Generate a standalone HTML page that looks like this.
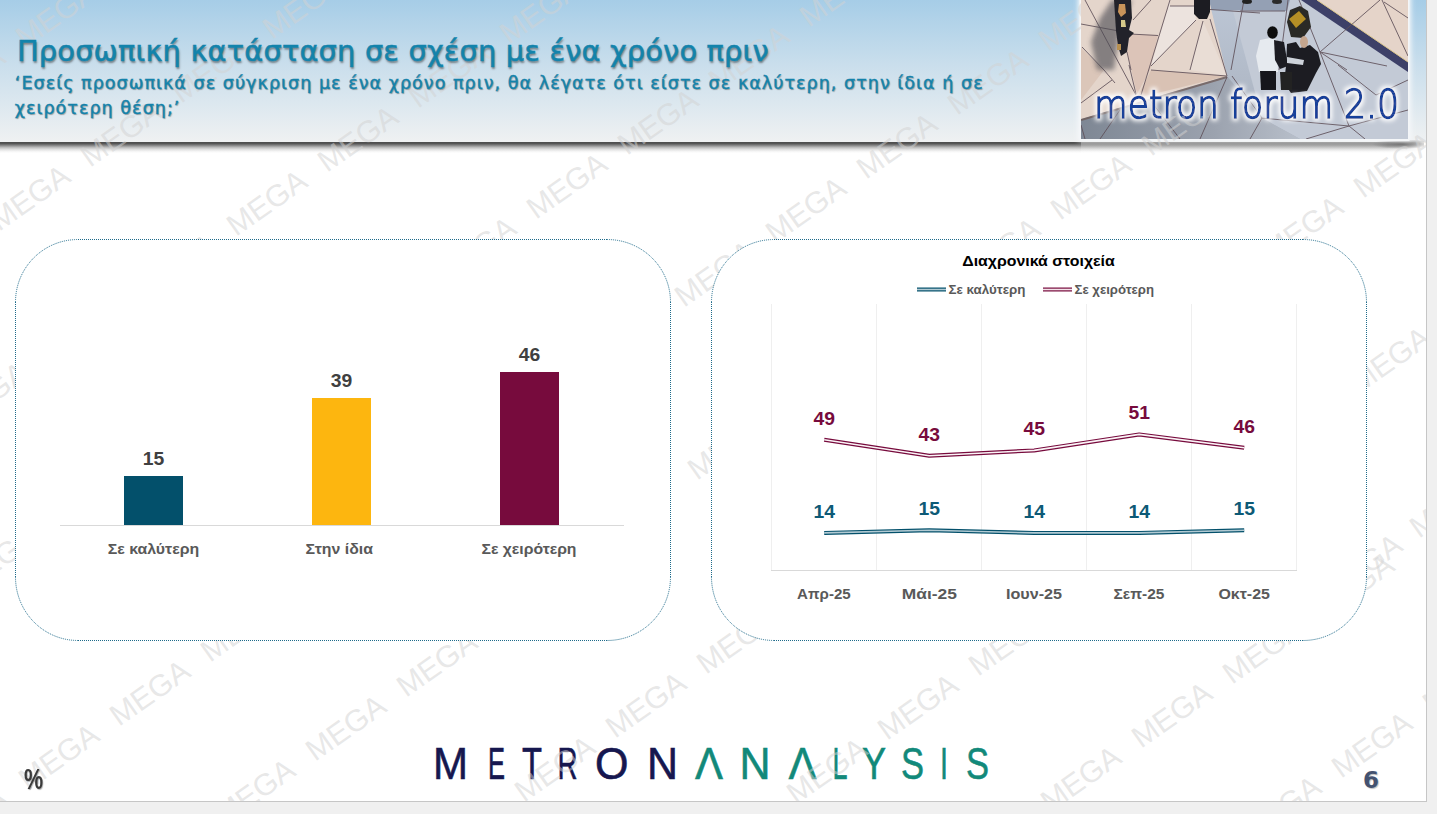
<!DOCTYPE html>
<html lang="el"><head><meta charset="utf-8"><title>Προσωπική κατάσταση</title>
<style>
html,body{margin:0;padding:0;}
body{width:1437px;height:814px;background:#f0f0f0;position:relative;overflow:hidden;font-family:"Liberation Sans","DejaVu Sans",sans-serif;}
#slide{position:absolute;left:0;top:0;width:1426px;height:801px;background:#fff;border-right:1px solid #c6c6c6;border-bottom:1px solid #c6c6c6;overflow:hidden;}
#hdr{position:absolute;left:0;top:0;width:1426px;height:142px;background:linear-gradient(180deg,#a6cde7 0%,#c9deec 45%,#eff1f2 100%);}
#shadow{position:absolute;left:0;top:142px;width:1081px;height:11px;background:linear-gradient(180deg,#4c4c4c 0%,#555 14%,#838383 30%,#b9b9b9 48%,#dedede 66%,#f4f4f4 84%,rgba(255,255,255,0) 100%);}
#shadow2{position:absolute;left:1081px;top:142px;width:341px;height:11px;background:linear-gradient(180deg,#7e7e7e 0%,#8a8a8a 14%,#a2a2a2 30%,#c4c4c4 48%,#e2e2e2 66%,#f6f6f6 84%,rgba(255,255,255,0) 100%);-webkit-mask-image:linear-gradient(90deg,#000 0%,#000 90%,rgba(0,0,0,0) 100%);mask-image:linear-gradient(90deg,#000 0%,#000 90%,rgba(0,0,0,0) 100%);}
#shadow3{position:absolute;left:1370px;top:140px;width:54px;height:12px;background:radial-gradient(ellipse 30px 5px at 32px 4px,rgba(70,70,70,.75) 0%,rgba(90,90,90,.4) 55%,rgba(255,255,255,0) 100%);}
.t1{position:absolute;left:17px;top:34px;font-family:"DejaVu Sans",sans-serif;font-size:28.8px;letter-spacing:.2px;color:#1383ab;white-space:nowrap;-webkit-text-stroke:.5px #1383ab;text-shadow:1px 1.5px 2px rgba(30,30,30,.5);}
.t2{position:absolute;left:14.8px;top:71px;font-family:"DejaVu Sans",sans-serif;font-size:17.5px;line-height:24.5px;letter-spacing:1.05px;color:#1482aa;white-space:nowrap;-webkit-text-stroke:.4px #1482aa;text-shadow:1px 1px 1px rgba(40,40,40,.4);}
.pct{position:absolute;left:23.5px;top:763px;transform:scaleX(.74);transform-origin:0 0;font-family:"Liberation Sans",sans-serif;font-weight:bold;font-size:29px;color:#3a3a3a;text-shadow:1px 1px 1px rgba(0,0,0,.3);}
.pg{position:absolute;left:1363px;top:767px;font-family:"DejaVu Sans",sans-serif;font-weight:bold;font-size:23px;color:#435270;text-shadow:1px 1px 1px rgba(0,0,0,.25);}
</style></head>
<body>
<div id="slide">
  <div id="hdr"></div>
  <div id="shadow"></div>
  <div id="shadow2"></div>
  <div id="shadow3"></div>
</div>
<svg id="mlogo" width="1437" height="814" viewBox="0 0 1437 814" style="position:absolute;left:0;top:0">
  <g font-family="Liberation Sans, sans-serif" font-size="45">
    <g fill="#16174f" stroke="#16174f" stroke-width="0.6">
      <text x="433" y="778.6" textLength="35" lengthAdjust="spacingAndGlyphs">M</text>
      <text x="488" y="778.6" textLength="17" lengthAdjust="spacingAndGlyphs">E</text>
      <text x="522" y="778.6" textLength="20" lengthAdjust="spacingAndGlyphs">T</text>
      <text x="557.5" y="778.6" textLength="20" lengthAdjust="spacingAndGlyphs">R</text>
      <text x="595" y="778.6" textLength="33.5" lengthAdjust="spacingAndGlyphs">O</text>
      <text x="647" y="778.6" textLength="31" lengthAdjust="spacingAndGlyphs">N</text>
    </g>
    <g fill="#12897a" stroke="#12897a" stroke-width="0.6">
      <text x="695" y="778.6" textLength="28" lengthAdjust="spacingAndGlyphs">Λ</text>
      <text x="739.5" y="778.6" textLength="31" lengthAdjust="spacingAndGlyphs">N</text>
      <text x="788.5" y="778.6" textLength="28" lengthAdjust="spacingAndGlyphs">Λ</text>
      <text x="832.5" y="778.6" textLength="15" lengthAdjust="spacingAndGlyphs">L</text>
      <text x="862" y="778.6" textLength="24" lengthAdjust="spacingAndGlyphs">Y</text>
      <text x="901" y="778.6" textLength="23" lengthAdjust="spacingAndGlyphs">S</text>
      <text x="940" y="778.6" textLength="8" lengthAdjust="spacingAndGlyphs">I</text>
      <text x="966" y="778.6" textLength="23" lengthAdjust="spacingAndGlyphs">S</text>
    </g>
  </g>
</svg>
<svg id="photo" width="1437" height="814" viewBox="0 0 1437 814" style="position:absolute;left:0;top:0">
  <defs>
    <clipPath id="pc"><rect x="1081" y="0" width="327" height="139"/></clipPath>
    <linearGradient id="gbl" x1="0" y1="0" x2="0" y2="1">
      <stop offset="0" stop-color="#bcc6d5"/><stop offset="1" stop-color="#a9b1be"/>
    </linearGradient>
    <linearGradient id="gdk" x1="0" y1="0" x2="1" y2="0">
      <stop offset="0" stop-color="#7e8794"/><stop offset="0.6" stop-color="#9ba2ae"/><stop offset="1" stop-color="#b8bfca"/>
    </linearGradient>
    <filter id="blur2" x="-20%" y="-20%" width="140%" height="140%"><feGaussianBlur stdDeviation="2.5"/></filter>
    <filter id="blur1"><feGaussianBlur stdDeviation="0.6"/></filter>
    <filter id="glow" x="-10%" y="-30%" width="120%" height="160%">
      <feMorphology in="SourceAlpha" operator="dilate" radius="2" result="d"/>
      <feGaussianBlur in="d" stdDeviation="2.2" result="b"/>
      <feFlood flood-color="#ffffff" flood-opacity="0.95"/>
      <feComposite in2="b" operator="in" result="g"/>
      <feMerge><feMergeNode in="g"/><feMergeNode in="SourceGraphic"/></feMerge>
    </filter>
  </defs>
  <rect x="1078" y="-5" width="333" height="146" fill="#f6f8fa" filter="url(#blur2)"/>
  <rect x="1079.5" y="0" width="330" height="141" fill="#f4f6f8"/>
  <g clip-path="url(#pc)">
    <!-- base gray-blue -->
    <rect x="1081" y="0" width="327" height="139" fill="url(#gbl)"/>
    <!-- lighter right area -->
    <polygon points="1230,0 1302,0 1408,70 1408,139 1300,139 1262,118" fill="#c3cad6"/>
    <polygon points="1209,0 1290,0 1287,11 1211,10" fill="#94a0b4"/>
    <!-- dark lower-left -->
    <polygon points="1081,119 1227,76 1262,118 1300,139 1081,139" fill="url(#gdk)"/>
    <!-- beige main region -->
    <polygon points="1081,0 1209,0 1227,76 1081,119" fill="#e4d5cb"/>
    <polygon points="1130,34 1158,35 1150,70 1137,94 1127,52" fill="#dcc4b8"/>
    <polygon points="1151,70 1227,76 1137,98" fill="#d9c2b4"/>
    <polygon points="1081,48 1104,70 1081,100" fill="#dbc6b9"/>
    <polygon points="1170,6 1194,6 1196,20 1151,66 1170,0" fill="#ece3de"/>
    <polygon points="1203,21 1227,76 1190,70" fill="#e9ddd5"/>
    <!-- shadow below beige edge -->
    <line x1="1081" y1="120" x2="1227" y2="77" stroke="#6b5550" stroke-width="2" opacity="0.7"/>
    <!-- navy band + beige triangle top right -->
    <polygon points="1301,0 1317,0 1408,62 1408,72" fill="#3d4068"/>
    <polygon points="1317,0 1408,0 1408,62" fill="#e5d4c9"/>
    <line x1="1317" y1="0" x2="1408" y2="62" stroke="#d8c38a" stroke-width="1"/>
    <!-- tile lines -->
    <g stroke="#5e4f58" stroke-width="1" fill="none" opacity="0.85">
      <line x1="1085" y1="0" x2="1136" y2="95"/>
      <line x1="1081" y1="24" x2="1119" y2="31"/>
      <line x1="1082" y1="47" x2="1104" y2="70"/>
      <line x1="1104" y1="70" x2="1115" y2="83"/>
      <line x1="1081" y1="103" x2="1112" y2="80"/>
      <line x1="1170" y1="0" x2="1141" y2="95"/>
      <line x1="1130" y1="34" x2="1158" y2="35.5"/>
      <line x1="1151" y1="0" x2="1133" y2="20"/>
      <line x1="1196" y1="20" x2="1151" y2="66"/>
      <line x1="1203" y1="21" x2="1190" y2="70"/>
      <line x1="1210" y1="19" x2="1227" y2="76"/>
      <line x1="1170" y1="6" x2="1194" y2="6"/>
      <line x1="1127" y1="52" x2="1131" y2="70"/>
      <line x1="1151" y1="70" x2="1227" y2="76"/>
      <line x1="1129" y1="65" x2="1136" y2="94"/>
      <line x1="1210" y1="9.5" x2="1260" y2="13"/>
      <line x1="1244" y1="0" x2="1231" y2="70"/>
      <line x1="1240" y1="11" x2="1285" y2="11"/>
      <line x1="1288" y1="0" x2="1279" y2="70"/>
      <line x1="1299" y1="0" x2="1320" y2="52"/>
      <line x1="1320" y1="52" x2="1380" y2="0"/>
      <line x1="1320" y1="52" x2="1387" y2="66"/>
      <line x1="1320" y1="52" x2="1347" y2="70"/>
      <line x1="1320" y1="52" x2="1349" y2="126"/>
      <line x1="1349" y1="126" x2="1365" y2="139"/>
      <line x1="1349" y1="126" x2="1306" y2="139"/>
      <line x1="1349" y1="126" x2="1408" y2="110"/>
      <line x1="1349" y1="126" x2="1261" y2="118"/>
      <line x1="1338" y1="65" x2="1376" y2="95"/>
      <line x1="1376" y1="95" x2="1408" y2="80"/>
      <line x1="1382" y1="0" x2="1408" y2="56"/>
      <line x1="1384" y1="2" x2="1408" y2="18"/>
      <line x1="1232" y1="76" x2="1262" y2="118"/>
      <line x1="1262" y1="118" x2="1250" y2="139"/>
      <line x1="1227" y1="77" x2="1200" y2="139"/>
      <line x1="1150" y1="100" x2="1180" y2="139"/>
      <line x1="1120" y1="110" x2="1100" y2="139"/>
      <line x1="1085" y1="139" x2="1081" y2="125"/>
    </g>
    <!-- shadow of person 1 -->
    <path d="M1112,0 L1132,0 L1120,30 L1114,70 L1097,70 L1091,42 L1100,18 Z" fill="#4c4c52" opacity="0.62" filter="url(#blur2)"/>
    <!-- person 1 -->
    <g filter="url(#blur1)">
      <path d="M1114,0 L1131,0 L1132,18 L1129,30 L1134,33 L1129,38 L1127,52 L1121,56 L1118,46 L1116,31 Z" fill="#23242a"/>
      <path d="M1119,4 L1125,4 L1126,13 L1121,17 L1118,12 Z" fill="#c9945a"/>
      <path d="M1121,20 L1125,20 L1126,27 L1121,27 Z" fill="#d6c98a"/>
      <path d="M1117,44 L1121,44 L1121,50 L1117,50 Z" fill="#b89050"/>
    </g>
    <!-- person 2 -->
    <path d="M1194,0 L1210,0 L1210,12 L1207,19 L1199,19 L1194,14 Z" fill="#1e1f22" filter="url(#blur1)"/>
    <ellipse cx="1247" cy="1.5" rx="5" ry="2.5" fill="#222"/>
    <ellipse cx="1277" cy="1.5" rx="5" ry="2.5" fill="#2a2a2a"/>
    <!-- group right -->
    <g filter="url(#blur1)">
      <path d="M1290,10 L1300,6 L1308,11 L1311,27 L1303,38 L1291,37 L1287,22 Z" fill="#2a2925"/>
      <path d="M1289,19 L1299,11 L1306,19 L1296,28 Z" fill="#b58f25"/>
      <path d="M1260,40 L1270,38 L1277,40 L1278,72 L1259,72 L1256,56 Z" fill="#e6eaef"/>
      <ellipse cx="1272.5" cy="32.5" rx="5.3" ry="6.2" fill="#111"/>
      <path d="M1260,71 L1276,71 L1276,90 L1261,90 Z" fill="#18181c"/>
      <path d="M1274,40 L1284,42 L1288,66 L1280,69 L1275,60 Z" fill="#1f1f24"/>
      <path d="M1287,44 L1296,42 L1300,48 L1310,45 L1318,52 L1321,64 L1316,73 L1307,91 L1291,93 L1284,83 L1286,66 Z" fill="#1c1c21"/>
      <ellipse cx="1304" cy="42" rx="4" ry="6" fill="#c4a58e"/>
      <path d="M1287,57 L1304,60 L1303,65 L1287,63 Z" fill="#cdd2da"/>
      <path d="M1280,72 L1292,72 L1292,90 L1281,90 Z" fill="#202024"/>
    </g>
  </g>
  <text x="1094" y="117.5" font-family="DejaVu Sans, sans-serif" font-weight="200" font-size="39.5" fill="#17409a" stroke="#17409a" stroke-width="1.5" textLength="305" lengthAdjust="spacingAndGlyphs" filter="url(#glow)">metron forum 2.0</text>
</svg>
<svg id="wm" width="1426" height="801" viewBox="0 0 1426 801" style="position:absolute;left:0;top:0">
<defs><clipPath id="wmclip"><path clip-rule="evenodd" d="M0,0H1426V801H0Z M1081,0H1409V116H1081Z"/></clipPath></defs>
<g clip-path="url(#wmclip)" font-family="Liberation Sans, sans-serif" font-size="30.5" fill="#d2d2d2" fill-opacity="0.52" text-anchor="middle">
<text x="-35.0" y="79.0" dy="10" transform="rotate(-35 -35.0 79.0)">MEGA</text>
<text x="56.0" y="15.0" dy="10" transform="rotate(-35 56.0 15.0)">MEGA</text>
<text x="30.0" y="198.0" dy="10" transform="rotate(-35 30.0 198.0)">MEGA</text>
<text x="121.0" y="134.0" dy="10" transform="rotate(-35 121.0 134.0)">MEGA</text>
<text x="212.0" y="70.0" dy="10" transform="rotate(-35 212.0 70.0)">MEGA</text>
<text x="303.0" y="6.0" dy="10" transform="rotate(-35 303.0 6.0)">MEGA</text>
<text x="176.0" y="267.0" dy="10" transform="rotate(-35 176.0 267.0)">MEGA</text>
<text x="267.0" y="203.0" dy="10" transform="rotate(-35 267.0 203.0)">MEGA</text>
<text x="358.0" y="139.0" dy="10" transform="rotate(-35 358.0 139.0)">MEGA</text>
<text x="449.0" y="75.0" dy="10" transform="rotate(-35 449.0 75.0)">MEGA</text>
<text x="540.0" y="11.0" dy="10" transform="rotate(-35 540.0 11.0)">MEGA</text>
<text x="476.0" y="250.0" dy="10" transform="rotate(-35 476.0 250.0)">MEGA</text>
<text x="567.0" y="186.0" dy="10" transform="rotate(-35 567.0 186.0)">MEGA</text>
<text x="658.0" y="122.0" dy="10" transform="rotate(-35 658.0 122.0)">MEGA</text>
<text x="749.0" y="58.0" dy="10" transform="rotate(-35 749.0 58.0)">MEGA</text>
<text x="840.0" y="-6.0" dy="10" transform="rotate(-35 840.0 -6.0)">MEGA</text>
<text x="715.0" y="274.0" dy="10" transform="rotate(-35 715.0 274.0)">MEGA</text>
<text x="806.0" y="210.0" dy="10" transform="rotate(-35 806.0 210.0)">MEGA</text>
<text x="897.0" y="146.0" dy="10" transform="rotate(-35 897.0 146.0)">MEGA</text>
<text x="988.0" y="82.0" dy="10" transform="rotate(-35 988.0 82.0)">MEGA</text>
<text x="1079.0" y="18.0" dy="10" transform="rotate(-35 1079.0 18.0)">MEGA</text>
<text x="1000.0" y="251.0" dy="10" transform="rotate(-35 1000.0 251.0)">MEGA</text>
<text x="1091.0" y="187.0" dy="10" transform="rotate(-35 1091.0 187.0)">MEGA</text>
<text x="1182.0" y="123.0" dy="10" transform="rotate(-35 1182.0 123.0)">MEGA</text>
<text x="1273.0" y="59.0" dy="10" transform="rotate(-35 1273.0 59.0)">MEGA</text>
<text x="1364.0" y="-5.0" dy="10" transform="rotate(-35 1364.0 -5.0)">MEGA</text>
<text x="1303.0" y="229.0" dy="10" transform="rotate(-35 1303.0 229.0)">MEGA</text>
<text x="1394.0" y="165.0" dy="10" transform="rotate(-35 1394.0 165.0)">MEGA</text>
<text x="-32.0" y="821.0" dy="10" transform="rotate(-35 -32.0 821.0)">MEGA</text>
<text x="59.0" y="757.0" dy="10" transform="rotate(-35 59.0 757.0)">MEGA</text>
<text x="150.0" y="693.0" dy="10" transform="rotate(-35 150.0 693.0)">MEGA</text>
<text x="241.0" y="629.0" dy="10" transform="rotate(-35 241.0 629.0)">MEGA</text>
<text x="255.0" y="792.0" dy="10" transform="rotate(-35 255.0 792.0)">MEGA</text>
<text x="346.0" y="728.0" dy="10" transform="rotate(-35 346.0 728.0)">MEGA</text>
<text x="437.0" y="664.0" dy="10" transform="rotate(-35 437.0 664.0)">MEGA</text>
<text x="464.0" y="833.0" dy="10" transform="rotate(-35 464.0 833.0)">MEGA</text>
<text x="555.0" y="769.0" dy="10" transform="rotate(-35 555.0 769.0)">MEGA</text>
<text x="646.0" y="705.0" dy="10" transform="rotate(-35 646.0 705.0)">MEGA</text>
<text x="737.0" y="641.0" dy="10" transform="rotate(-35 737.0 641.0)">MEGA</text>
<text x="736.0" y="835.0" dy="10" transform="rotate(-35 736.0 835.0)">MEGA</text>
<text x="827.0" y="771.0" dy="10" transform="rotate(-35 827.0 771.0)">MEGA</text>
<text x="918.0" y="707.0" dy="10" transform="rotate(-35 918.0 707.0)">MEGA</text>
<text x="1009.0" y="643.0" dy="10" transform="rotate(-35 1009.0 643.0)">MEGA</text>
<text x="1081.0" y="779.0" dy="10" transform="rotate(-35 1081.0 779.0)">MEGA</text>
<text x="1172.0" y="715.0" dy="10" transform="rotate(-35 1172.0 715.0)">MEGA</text>
<text x="1263.0" y="651.0" dy="10" transform="rotate(-35 1263.0 651.0)">MEGA</text>
<text x="1354.0" y="587.0" dy="10" transform="rotate(-35 1354.0 587.0)">MEGA</text>
<text x="1281.0" y="809.0" dy="10" transform="rotate(-35 1281.0 809.0)">MEGA</text>
<text x="1372.0" y="745.0" dy="10" transform="rotate(-35 1372.0 745.0)">MEGA</text>
<text x="1463.0" y="681.0" dy="10" transform="rotate(-35 1463.0 681.0)">MEGA</text>
<text x="-12" y="395" dy="10" transform="rotate(-35 -12 395)">MEGA</text>
<text x="-3" y="560" dy="10" transform="rotate(-35 -3 560)">MEGA</text>
<text x="728" y="447" dy="10" transform="rotate(-35 728 447)">MEGA</text>
<text x="1390" y="360" dy="10" transform="rotate(-35 1390 360)">MEGA</text>
<text x="1362" y="567" dy="10" transform="rotate(-35 1362 567)">MEGA</text>
<text x="1450" y="505" dy="10" transform="rotate(-35 1450 505)">MEGA</text>
</g></svg>
<div id="txt" style="position:absolute;left:0;top:0;width:1426px;height:801px;overflow:hidden">
  <div class="t1">Προσωπική κατάσταση σε σχέση με ένα χρόνο πριν</div>
  <div class="t2">‘Εσείς προσωπικά σε σύγκριση με ένα χρόνο πριν, θα λέγατε ότι είστε σε καλύτερη, στην ίδια ή σε<br>χειρότερη θέση;’</div>
  <div class="pct">%</div>
  <div class="pg">6</div>
</div>
<svg id="charts" width="1437" height="814" viewBox="0 0 1437 814" style="position:absolute;left:0;top:0">
  <!-- left box -->
  <rect x="15.5" y="239.5" width="655.0" height="401.0" rx="63" ry="63" fill="#fff"/>
  <g fill="none" stroke="#1d6a8a" stroke-width="1" stroke-dasharray="1 1"><path d="M78,239.5H607"/><path d="M78,640.5H607"/><path d="M15.5,302V577"/><path d="M670.5,302V577"/><path d="M15.5,302A62.5,62.5 0 0 1 78,239.5"/><path d="M607,239.5A63.5,62.5 0 0 1 670.5,302"/><path d="M670.5,577A63.5,63.5 0 0 1 607,640.5"/><path d="M78,640.5A62.5,63.5 0 0 1 15.5,577"/></g>
  <!-- right box -->
  <rect x="711.5" y="239.5" width="655.0" height="401.0" rx="63" ry="63" fill="#fff"/>
  <g fill="none" stroke="#1d6a8a" stroke-width="1" stroke-dasharray="1 1"><path d="M774,239.5H1303"/><path d="M774,640.5H1303"/><path d="M711.5,302V577"/><path d="M1366.5,302V577"/><path d="M711.5,302A62.5,62.5 0 0 1 774,239.5"/><path d="M1303,239.5A63.5,62.5 0 0 1 1366.5,302"/><path d="M1366.5,577A63.5,63.5 0 0 1 1303,640.5"/><path d="M774,640.5A62.5,63.5 0 0 1 711.5,577"/></g>

  <!-- bar chart -->
  <line x1="60" y1="525.5" x2="624" y2="525.5" stroke="#d9d9d9" stroke-width="1"/>
  <rect x="124" y="476" width="59" height="49" fill="#03506b"/>
  <rect x="312" y="398" width="59" height="127" fill="#fdb60f"/>
  <rect x="500" y="372" width="59" height="153" fill="#770b3d"/>
  <g font-family="Liberation Sans, sans-serif" font-weight="bold" font-size="17.5" fill="#404040" text-anchor="middle">
    <text x="153.5" y="465" textLength="21.5" lengthAdjust="spacingAndGlyphs">15</text>
    <text x="341.5" y="387" textLength="21.5" lengthAdjust="spacingAndGlyphs">39</text>
    <text x="529.5" y="361" textLength="21.5" lengthAdjust="spacingAndGlyphs">46</text>
  </g>
  <g font-family="Liberation Sans, sans-serif" font-weight="bold" font-size="14.5" fill="#595959" text-anchor="middle">
    <text x="153.5" y="554" textLength="91.5" lengthAdjust="spacingAndGlyphs">Σε καλύτερη</text>
    <text x="339.2" y="554" textLength="67.5" lengthAdjust="spacingAndGlyphs">Στην ίδια</text>
    <text x="529" y="554" textLength="95" lengthAdjust="spacingAndGlyphs">Σε χειρότερη</text>
  </g>

  <!-- line chart -->
  <text x="1038.5" y="266" font-family="Liberation Sans, sans-serif" font-weight="bold" font-size="14.5" fill="#000" text-anchor="middle" textLength="152.5" lengthAdjust="spacingAndGlyphs">Διαχρονικά στοιχεία</text>
  <g stroke-linecap="butt">
    <line x1="917" y1="289.5" x2="946" y2="289.5" stroke="#03506b" stroke-width="4"/>
    <line x1="917" y1="289.5" x2="946" y2="289.5" stroke="#b2cad3" stroke-width="1.6"/>
    <line x1="1043" y1="289.5" x2="1072" y2="289.5" stroke="#770b3d" stroke-width="4"/>
    <line x1="1043" y1="289.5" x2="1072" y2="289.5" stroke="#f3e4ea" stroke-width="1.6"/>
  </g>
  <g font-family="Liberation Sans, sans-serif" font-weight="bold" font-size="13" fill="#595959">
    <text x="948.5" y="294" textLength="77" lengthAdjust="spacingAndGlyphs">Σε καλύτερη</text>
    <text x="1074.5" y="294" textLength="79.6" lengthAdjust="spacingAndGlyphs">Σε χειρότερη</text>
  </g>
  <g stroke="#efefef" stroke-width="1">
    <line x1="771.5" y1="304" x2="771.5" y2="570"/>
    <line x1="876.5" y1="304" x2="876.5" y2="570"/>
    <line x1="981.5" y1="304" x2="981.5" y2="570"/>
    <line x1="1086.5" y1="304" x2="1086.5" y2="570"/>
    <line x1="1191.5" y1="304" x2="1191.5" y2="570"/>
    <line x1="1296.5" y1="304" x2="1296.5" y2="570"/>
  </g>
  <line x1="771" y1="570.5" x2="1297" y2="570.5" stroke="#d9d9d9" stroke-width="1"/>
  <g fill="none" stroke-linejoin="round">
    <polyline points="824.2,439.7 929.2,455.7 1034.2,450.4 1139.2,434.4 1244.2,447.7" stroke="#770b3d" stroke-width="4"/>
    <polyline points="824.2,439.7 929.2,455.7 1034.2,450.4 1139.2,434.4 1244.2,447.7" stroke="#fbf4f7" stroke-width="1.6"/>
    <polyline points="824.2,532.9 929.2,530.3 1034.2,532.9 1139.2,532.9 1244.2,530.3" stroke="#03506b" stroke-width="4"/>
    <polyline points="824.2,532.9 929.2,530.3 1034.2,532.9 1139.2,532.9 1244.2,530.3" stroke="#b2cad3" stroke-width="1.6"/>
  </g>
  <g font-family="Liberation Sans, sans-serif" font-weight="bold" font-size="17.5" text-anchor="middle">
    <g fill="#770b3d">
      <text x="824.2" y="424.7" textLength="21.5" lengthAdjust="spacingAndGlyphs">49</text>
      <text x="929.2" y="440.7" textLength="21.5" lengthAdjust="spacingAndGlyphs">43</text>
      <text x="1034.2" y="435.4" textLength="21.5" lengthAdjust="spacingAndGlyphs">45</text>
      <text x="1139.2" y="419.4" textLength="21.5" lengthAdjust="spacingAndGlyphs">51</text>
      <text x="1244.2" y="432.7" textLength="21.5" lengthAdjust="spacingAndGlyphs">46</text>
    </g>
    <g fill="#0d5a76">
      <text x="824.2" y="517.9" textLength="21.5" lengthAdjust="spacingAndGlyphs">14</text>
      <text x="929.2" y="515.3" textLength="21.5" lengthAdjust="spacingAndGlyphs">15</text>
      <text x="1034.2" y="517.9" textLength="21.5" lengthAdjust="spacingAndGlyphs">14</text>
      <text x="1139.2" y="517.9" textLength="21.5" lengthAdjust="spacingAndGlyphs">14</text>
      <text x="1244.2" y="515.3" textLength="21.5" lengthAdjust="spacingAndGlyphs">15</text>
    </g>
  </g>
  <g font-family="Liberation Sans, sans-serif" font-weight="bold" font-size="15" fill="#595959" text-anchor="middle">
    <text x="823.9" y="598.6" textLength="53.6" lengthAdjust="spacingAndGlyphs">Απρ-25</text>
    <text x="929.4" y="598.6" textLength="55.2" lengthAdjust="spacingAndGlyphs">Μάι-25</text>
    <text x="1034" y="598.6" textLength="56.1" lengthAdjust="spacingAndGlyphs">Ιουν-25</text>
    <text x="1139" y="598.6" textLength="50.9" lengthAdjust="spacingAndGlyphs">Σεπ-25</text>
    <text x="1244.2" y="598.6" textLength="51.5" lengthAdjust="spacingAndGlyphs">Οκτ-25</text>
  </g>
</svg></body></html>
